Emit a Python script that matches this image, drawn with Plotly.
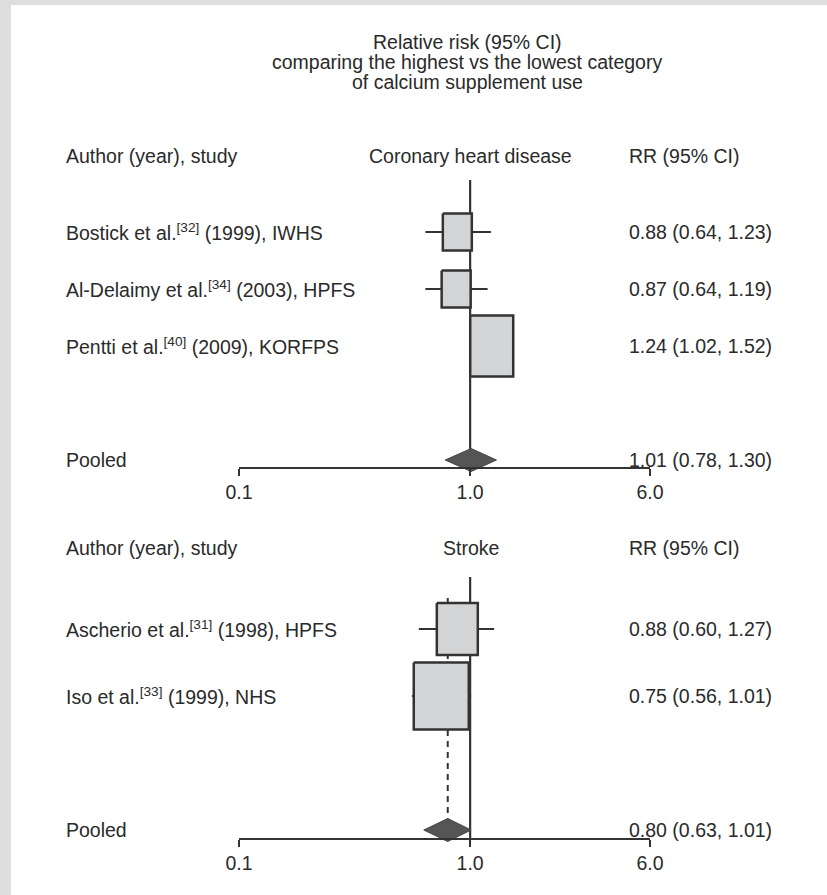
import math
import plotly.graph_objects as go

# ---------------- data ----------------
chd_labels = ["Bostick et al.<sup>[32]</sup> (1999), IWHS",
              "Al-Delaimy et al.<sup>[34]</sup> (2003), HPFS",
              "Pentti et al.<sup>[40]</sup> (2009), KORFPS"]
chd_rr = [0.88, 0.87, 1.24]
chd_lo = [0.64, 0.64, 1.02]
chd_hi = [1.23, 1.19, 1.52]
chd_pooled = [1.01, 0.78, 1.30]

stroke_labels = ["Ascherio et al.<sup>[31]</sup> (1998), HPFS",
                 "Iso et al.<sup>[33]</sup> (1999), NHS"]
stroke_rr = [0.88, 0.75]
stroke_lo = [0.60, 0.56]
stroke_hi = [1.27, 1.01]
stroke_pooled = [0.80, 0.63, 1.01]

tick_vals = [0.1, 1.0, 6.0]
tick_text = ["0.1", "1.0", "6.0"]

title_lines = ["Relative risk (95% CI)",
               "comparing the highest vs the lowest category",
               "of calcium supplement use"]

# ---------------- style / layout constants ----------------
W, H = 827, 895
FONT = "Liberation Sans, Arial, sans-serif"
FS = 19.5
TXT = "#2a2a2a"
LINE = "#333333"
BOX_FILL = "#d3d4d6"
DIAM_FILL = "#555555"

# box sizes in pixels (marker weights), per study
chd_box = [(29, 37), (29, 37), (43, 61)]
stroke_box = [(41, 52), (55, 67)]

X0_PX, X1_PX = 239, 650
PX_PER_DEC = (X1_PX - X0_PX) / (math.log10(6.0) + 1)


def fx(px):
    return px / W


def fy(px):
    return 1 - px / H


panels = [
    dict(name="Coronary heart disease", labels=chd_labels, rr=chd_rr, lo=chd_lo, hi=chd_hi,
         pooled=chd_pooled, box=chd_box, row0=232, rowpx=57, dom=(120, 500), axis_px=468,
         header_px=156, xa="xaxis", ya="yaxis", xr="x", yr="y"),
    dict(name="Stroke", labels=stroke_labels, rr=stroke_rr, lo=stroke_lo, hi=stroke_hi,
         pooled=stroke_pooled, box=stroke_box, row0=629, rowpx=67, dom=(520, 880), axis_px=839,
         header_px=548, xa="xaxis2", ya="yaxis2", xr="x2", yr="y2"),
]

fig = go.Figure()
annotations = []
layout = {}

for p in panels:
    r0, rp = p["row0"], p["rowpx"]
    def row_of(px):
        return (px - r0) / rp
    n = len(p["rr"])
    pooled_row = n + 1
    axis_row = row_of(p["axis_px"])
    top_row = row_of(r0 - 52)
    xr, yr = p["xr"], p["yr"]

    prr, plo, phi = p["pooled"]
    dh = 11.5 / rp
    # dashed pooled line (only when it is distinguishable from the null line)
    if abs(math.log10(prr)) > 0.01:
        fig.add_trace(go.Scatter(x=[prr, prr], y=[row_of(r0 - 31), pooled_row - dh], mode="lines",
                                 line=dict(color=LINE, width=2, dash="6px,5px"),
                                 xaxis=xr, yaxis=yr, hoverinfo="skip", showlegend=False))
    # reference line at 1.0
    fig.add_trace(go.Scatter(x=[1.0, 1.0], y=[top_row, axis_row], mode="lines",
                             line=dict(color=LINE, width=2.2),
                             xaxis=xr, yaxis=yr, hoverinfo="skip", showlegend=False))
    for i in range(n):
        rr, lo, hi = p["rr"][i], p["lo"][i], p["hi"][i]
        bw, bh = p["box"][i]
        fig.add_trace(go.Scatter(x=[lo, hi], y=[i, i], mode="lines",
                                 line=dict(color=LINE, width=2),
                                 xaxis=xr, yaxis=yr, hoverinfo="skip", showlegend=False))
        k = 10 ** (bw / 2 / PX_PER_DEC)
        hh = bh / 2 / rp
        fig.add_trace(go.Scatter(x=[rr / k, rr * k, rr * k, rr / k, rr / k],
                                 y=[i - hh, i - hh, i + hh, i + hh, i - hh],
                                 mode="lines", fill="toself", fillcolor=BOX_FILL,
                                 line=dict(color=LINE, width=2.5),
                                 xaxis=xr, yaxis=yr, hoverinfo="skip", showlegend=False))
        annotations.append(dict(x=fx(64), xref="paper", y=i, yref=yr, text=p["labels"][i],
                                xanchor="left", yanchor="middle", showarrow=False))
        annotations.append(dict(x=fx(627), xref="paper", y=i, yref=yr,
                                text=f"{rr:.2f} ({lo:.2f}, {hi:.2f})",
                                xanchor="left", yanchor="middle", showarrow=False))
    # pooled diamond
    fig.add_trace(go.Scatter(x=[plo, prr, phi, prr, plo],
                             y=[pooled_row, pooled_row - dh, pooled_row, pooled_row + dh, pooled_row],
                             mode="lines", fill="toself", fillcolor=DIAM_FILL,
                             line=dict(color="#444444", width=1),
                             xaxis=xr, yaxis=yr, hoverinfo="skip", showlegend=False))
    annotations.append(dict(x=fx(64), xref="paper", y=pooled_row, yref=yr, text="Pooled",
                            xanchor="left", yanchor="middle", showarrow=False))
    annotations.append(dict(x=fx(627), xref="paper", y=pooled_row, yref=yr,
                            text=f"{prr:.2f} ({plo:.2f}, {phi:.2f})",
                            xanchor="left", yanchor="middle", showarrow=False))
    # headers
    hy = fy(p["header_px"])
    annotations.append(dict(x=fx(64), xref="paper", y=hy, yref="paper", text="Author (year), study",
                            xanchor="left", yanchor="middle", showarrow=False))
    annotations.append(dict(x=fx(471), xref="paper", y=hy, yref="paper", text=p["name"],
                            xanchor="center", yanchor="middle", showarrow=False))
    annotations.append(dict(x=fx(627), xref="paper", y=hy, yref="paper", text="RR (95% CI)",
                            xanchor="left", yanchor="middle", showarrow=False))

    d0, d1 = p["dom"]
    layout[p["xa"]] = dict(domain=[fx(X0_PX), fx(X1_PX)], type="log",
                           range=[-1, math.log10(6.0)], anchor="free", position=fy(p["axis_px"]),
                           showline=True, linecolor=LINE, linewidth=2, ticks="outside",
                           ticklen=7, tickwidth=2, tickcolor=LINE, tickvals=tick_vals,
                           ticktext=tick_text, showgrid=False, zeroline=False, automargin=False,
                           tickfont=dict(family=FONT, size=FS, color=TXT), fixedrange=True)
    layout[p["ya"]] = dict(domain=[fy(d1), fy(d0)], automargin=False,
                           range=[row_of(d1), row_of(d0)], visible=False, showgrid=False,
                           zeroline=False, fixedrange=True)

for j, line in enumerate(title_lines):
    annotations.append(dict(x=fx(467), xref="paper", y=fy(42 + 20 * j), yref="paper", text=line,
                            xanchor="center", yanchor="middle", showarrow=False))

shapes = [
    dict(type="rect", xref="paper", yref="paper", x0=0, x1=fx(11), y0=0, y1=1,
         fillcolor="#dedede", line=dict(width=0), layer="below"),
    dict(type="rect", xref="paper", yref="paper", x0=0, x1=1, y0=fy(5), y1=1,
         fillcolor="#dedede", line=dict(width=0), layer="below"),
]

fig.update_layout(
    width=W, height=H, autosize=False,
    margin=dict(l=0, r=0, t=0, b=0, pad=0, autoexpand=False),
    paper_bgcolor="white", plot_bgcolor="rgba(0,0,0,0)",
    font=dict(family=FONT, size=FS, color=TXT),
    annotations=annotations, shapes=shapes, showlegend=False,
    **layout,
)

fig.write_html("out.html", config={"displayModeBar": False, "responsive": False},
               post_script="document.body.style.margin='0';document.body.style.overflow='hidden';")
